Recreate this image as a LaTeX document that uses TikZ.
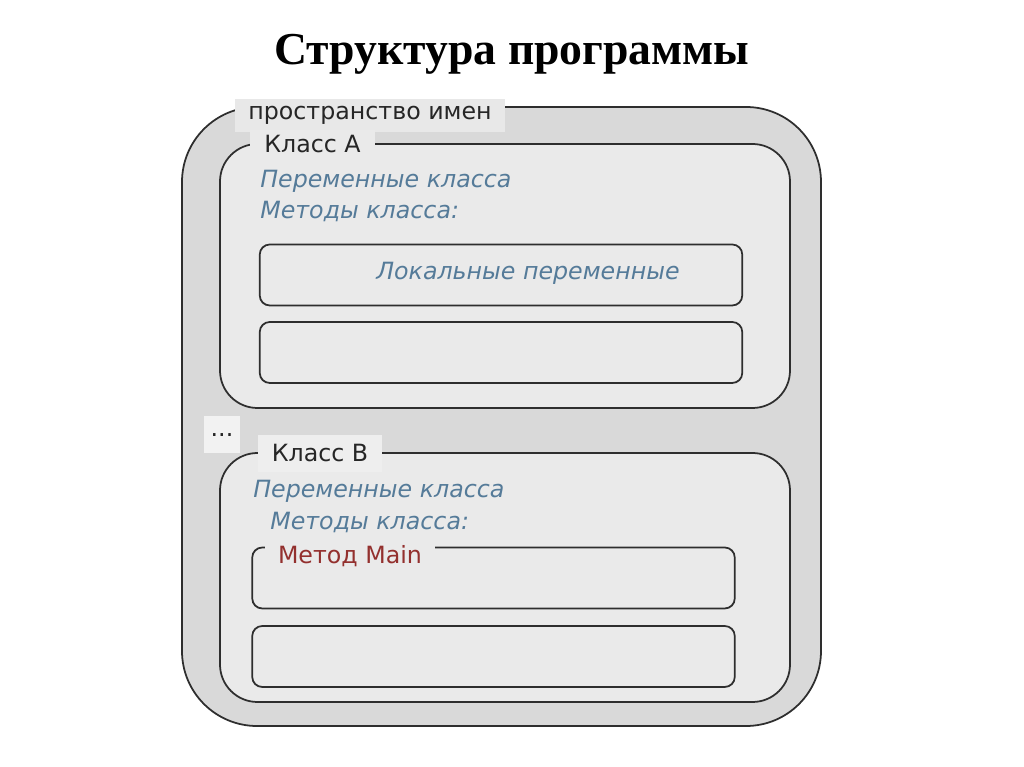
\documentclass[tikz,border=0pt]{standalone}
\usepackage{fontspec}
\setmainfont{Liberation Serif}
\newfontfamily\diagfont{DejaVu Sans}
\usepackage{tikz}
\usetikzlibrary{positioning}
\definecolor{spacefill}{HTML}{D9D9D9}
\definecolor{classfill}{HTML}{EAEAEA}
\definecolor{tagfill}{HTML}{E8E8E8}
\definecolor{edgegray}{HTML}{2E2E2E}
\definecolor{memberblue}{HTML}{557B99}
\definecolor{mainred}{HTML}{93302E}
\tikzset{
  % contenitori
  space/.style={
    rectangle, draw=edgegray, line width=1pt, fill=spacefill,
    rounded corners=1.5cm, inner sep=0pt
  },
  class/.style={
    rectangle, draw=edgegray, line width=1pt, fill=classfill,
    rounded corners=0.75cm, inner sep=0pt
  },
  method/.style={
    rectangle, draw=edgegray, line width=1pt, fill=classfill,
    rounded corners=0.2cm, inner sep=0pt,
    minimum width=9.65cm, minimum height=1.22cm
  },
  % etichette
  tag/.style={
    rectangle, fill=tagfill, inner sep=0pt,
    font=\diagfont\fontsize{13.5}{16}\selectfont, text=black!85
  },
  member/.style={
    anchor=west, inner sep=0pt,
    font=\diagfont\itshape\fontsize{13.5}{16}\selectfont, text=memberblue
  },
  every node/.style={anchor=center}
}

\begin{document}
\begin{tikzpicture}
\useasboundingbox (0,0) rectangle (20.48,-15.34);

% Titolo
\node[font=\bfseries\fontsize{26}{30}\selectfont] (title) at (10.24,-1.08) {Структура программы};

% Spazio dei nomi
\node[space, minimum width=12.78cm, minimum height=12.38cm] (namespace) at (10.03,-8.33) {};

% Classe A
\node[class, minimum width=11.4cm, minimum height=5.28cm] (classA) at (10.10,-5.52) {};
\node[method] (locals) at (10.02,-5.50) {};
\node[method] (methodA2) at (10.02,-7.05) {};

% Classe B
\node[class, minimum width=11.4cm, minimum height=4.98cm] (classB) at (10.10,-11.55) {};
\node[method] (mainmethod) at (9.87,-11.56) {};
\node[method] (methodB2) at (9.87,-13.13) {};

% Etichette sui bordi
\node[tag, minimum width=5.4cm, minimum height=0.66cm] (spacetag) at (7.40,-2.31) {пространство имен};
\node[tag, fill=classfill, minimum width=2.5cm, minimum height=0.56cm] (classAtag) at (6.25,-2.88) {Класс А};
\node[tag, fill=classfill!60!white, minimum width=0.72cm, minimum height=0.74cm] (dots) at (4.44,-8.70) {...};
\node[tag, fill=classfill!80!white, minimum width=2.48cm, minimum height=0.74cm] (classBtag) at (6.40,-9.07) {Класс В};
\node[tag, fill=classfill, text=mainred, minimum width=3.4cm, minimum height=0.56cm] (maintag) at (7.00,-11.12) {Метод Main};

% Membri
\node[member] (varsA) at (5.20,-3.62) {Переменные класса};
\node[member] (methodsA) at (5.20,-4.22) {Методы класса:};
\node[member, anchor=center] (localvars) at (10.56,-5.46) {Локальные переменные};
\node[member] (varsB) at (5.06,-9.82) {Переменные класса};
\node[member] (methodsB) at (5.40,-10.44) {Методы класса:};

\end{tikzpicture}
\end{document}
